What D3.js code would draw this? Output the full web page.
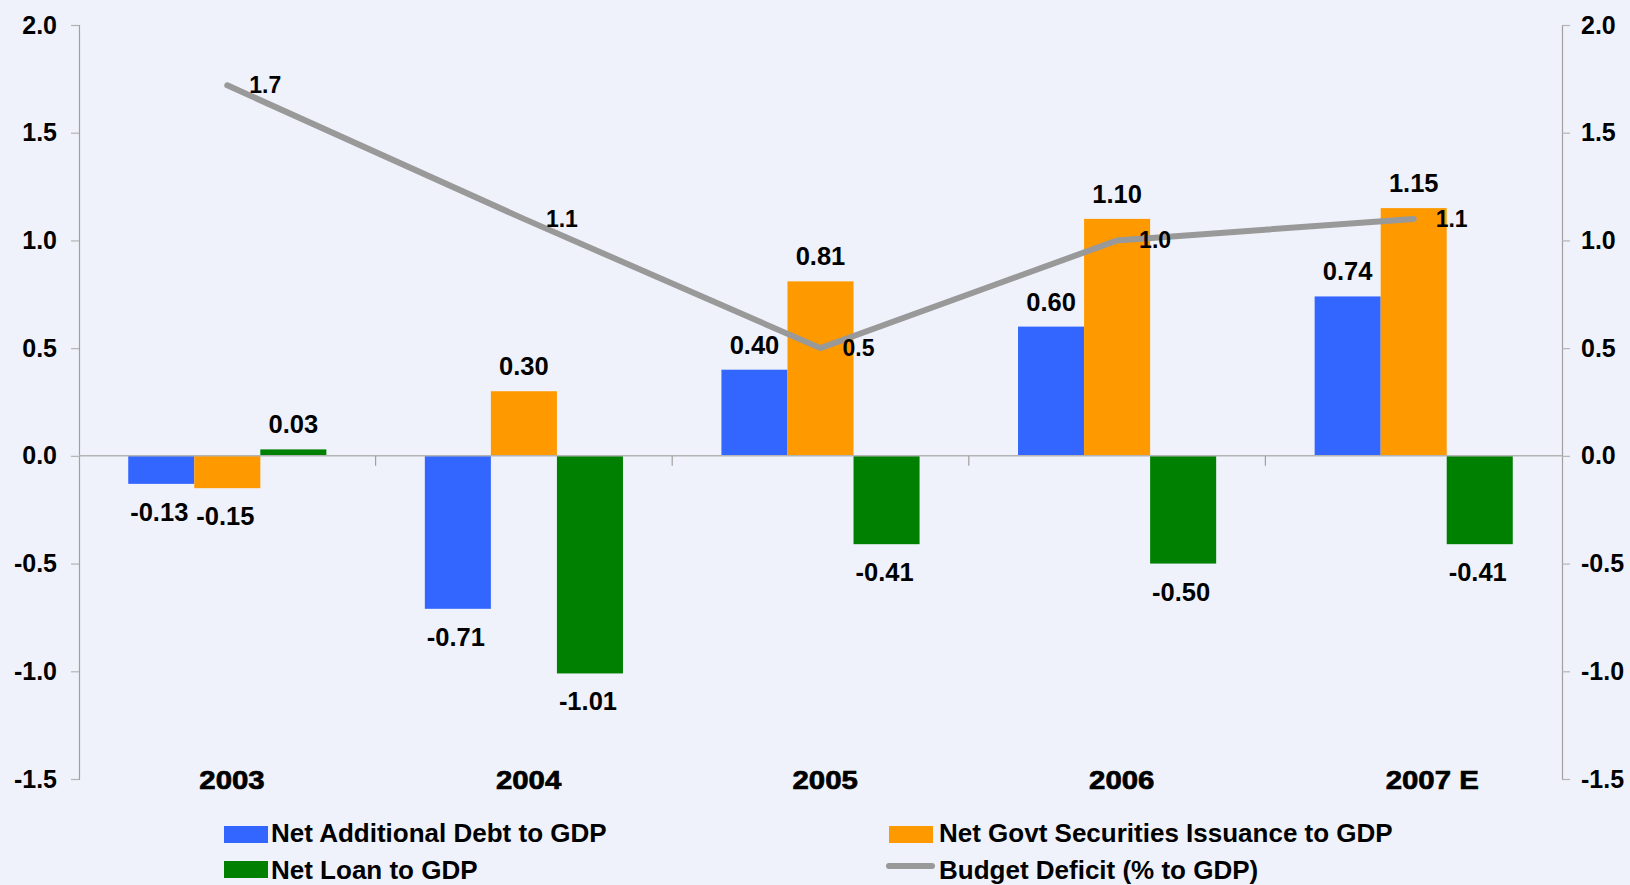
<!DOCTYPE html>
<html>
<head>
<meta charset="utf-8">
<script src="https://cdn.jsdelivr.net/npm/d3@7"></script>
<style>
  html, body { margin: 0; padding: 0; background: #eff2fa; }
  svg { display: block; }
  text { font-family: "Liberation Sans", Arial, Helvetica, sans-serif; font-weight: bold; fill: #000; }
</style>
</head>
<body>
<svg id="chart" width="1630" height="885"></svg>
<script>
const categories = ["2003", "2004", "2005", "2006", "2007 E"];
const seriesNames = ["Net Additional Debt to GDP", "Net Govt Securities Issuance to GDP", "Net Loan to GDP"];
const netAdditionalDebt = [-0.13, -0.71, 0.40, 0.60, 0.74];
const netGovtSecurities = [-0.15, 0.30, 0.81, 1.10, 1.15];
const netLoan = [0.03, -1.01, -0.41, -0.50, -0.41];
const budgetDeficit = [1.72, 1.1, 0.5, 1.0, 1.1];
const lineName = "Budget Deficit (% to GDP)";
const yTicks = [-1.5, -1.0, -0.5, 0.0, 0.5, 1.0, 1.5, 2.0];
const colors = ["#3366ff", "#ff9900", "#008000"];
const lineColor = "#999999";

(function () {
const svg = d3.select("#chart");
const mLeft = 79, mRight = 1562, mTop = 25, mBottom = 779;

const x = d3.scaleBand().domain(categories).range([mLeft, mRight]).paddingInner(0).paddingOuter(0);
const bw = x.bandwidth();
const groupW = bw * 0.668;
const x1 = d3.scaleBand().domain(seriesNames).range([0, groupW]);
const y = d3.scaleLinear().domain([-1.5, 2.0]).range([mBottom, mTop]);

const seriesValues = [netAdditionalDebt, netGovtSecurities, netLoan];
const fmt1 = d => d.toFixed(1);
const fmt2 = d => d.toFixed(2);

// Axes
const yl = svg.append("g").attr("transform", `translate(${mLeft},0)`)
  .call(d3.axisLeft(y).tickValues(yTicks).tickFormat(fmt1).tickSize(8).tickPadding(14));
const yr = svg.append("g").attr("transform", `translate(${mRight},0)`)
  .call(d3.axisRight(y).tickValues(yTicks).tickFormat(fmt1).tickSize(8).tickPadding(11));
[yl, yr].forEach(g => {
  g.select(".domain").attr("stroke", "#a0a0a0").attr("stroke-width", 1.2);
  g.selectAll(".tick line").attr("stroke", "#b4b4b4").attr("stroke-width", 1.2);
  g.selectAll(".tick text").attr("font-size", 25).attr("font-weight", "bold")
    .attr("font-family", '"Liberation Sans", Arial, sans-serif').attr("fill", "#000");
});

// Bars
const bars = svg.append("g");
seriesValues.forEach((vals, si) => {
  bars.selectAll(null).data(vals).enter().append("rect")
    .attr("x", (d, i) => x(categories[i]) + (bw - groupW) / 2 + x1(seriesNames[si]))
    .attr("width", x1.bandwidth())
    .attr("y", d => y(Math.max(0, d)))
    .attr("height", d => Math.abs(y(d) - y(0)))
    .attr("fill", colors[si]);
});

// Zero line and category ticks
svg.append("line").attr("x1", mLeft).attr("x2", mRight).attr("y1", y(0)).attr("y2", y(0))
  .attr("stroke", "#b4b4b4").attr("stroke-width", 1.5);
svg.append("g").selectAll("line").data(categories.slice(1)).enter().append("line")
  .attr("x1", d => x(d)).attr("x2", d => x(d))
  .attr("y1", y(0)).attr("y2", y(0) + 10)
  .attr("stroke", "#a0a0a0").attr("stroke-width", 1.2);

// Category labels (wide, heavy)
svg.append("g").selectAll("text").data(categories).enter().append("text")
  .attr("transform", d => `translate(${x(d) + bw / 2 - 28},789) scale(1.13,1)`)
  .attr("font-size", 26)
  .attr("stroke", "#000").attr("stroke-width", 0.7)
  .text(d => d);

// Bar value labels
const lbl = svg.append("g");
seriesValues.forEach((vals, si) => {
  lbl.selectAll(null).data(vals).enter().append("text")
    .attr("x", (d, i) => x(categories[i]) + (bw - groupW) / 2 + x1(seriesNames[si]) + x1.bandwidth() / 2 - (d < 0 ? 2 : 0))
    .attr("y", d => d >= 0 ? y(d) - 16 : y(d) + 37)
    .attr("text-anchor", "middle")
    .attr("font-size", 25.5)
    .text(d => fmt2(d));
});

// Line
const cx = (d, i) => x(categories[i]) + bw / 2;
svg.append("path").datum(budgetDeficit)
  .attr("d", d3.line().x(cx).y(d => y(d)))
  .attr("fill", "none").attr("stroke", lineColor).attr("stroke-width", 6)
  .attr("stroke-linecap", "round").attr("stroke-linejoin", "miter");

svg.append("g").selectAll("text").data(budgetDeficit).enter().append("text")
  .attr("x", (d, i) => cx(d, i) + 22)
  .attr("y", d => y(d) + 8)
  .attr("font-size", 23)
  .text(d => fmt1(d));

// Legend
const leg = svg.append("g");
const legItems = [
  { name: seriesNames[0], type: "rect", color: colors[0], sx: 224, tx: 271, row: 0 },
  { name: seriesNames[1], type: "rect", color: colors[1], sx: 889, tx: 939, row: 0 },
  { name: seriesNames[2], type: "rect", color: colors[2], sx: 224, tx: 271, row: 1 },
  { name: lineName, type: "line", color: lineColor, sx: 889, tx: 939, row: 1 }
];
const rowTop = [826, 861];
const rowBase = [842, 879];
legItems.forEach(it => {
  if (it.type === "rect") {
    leg.append("rect").attr("x", it.sx).attr("y", rowTop[it.row]).attr("width", 44).attr("height", 17).attr("fill", it.color);
  } else {
    leg.append("line").attr("x1", it.sx).attr("x2", it.sx + 43).attr("y1", 866).attr("y2", 866)
      .attr("stroke", it.color).attr("stroke-width", 6).attr("stroke-linecap", "round");
  }
  leg.append("text").attr("x", it.tx).attr("y", rowBase[it.row]).attr("font-size", 26).text(it.name);
});
})();
</script>
</body>
</html>
